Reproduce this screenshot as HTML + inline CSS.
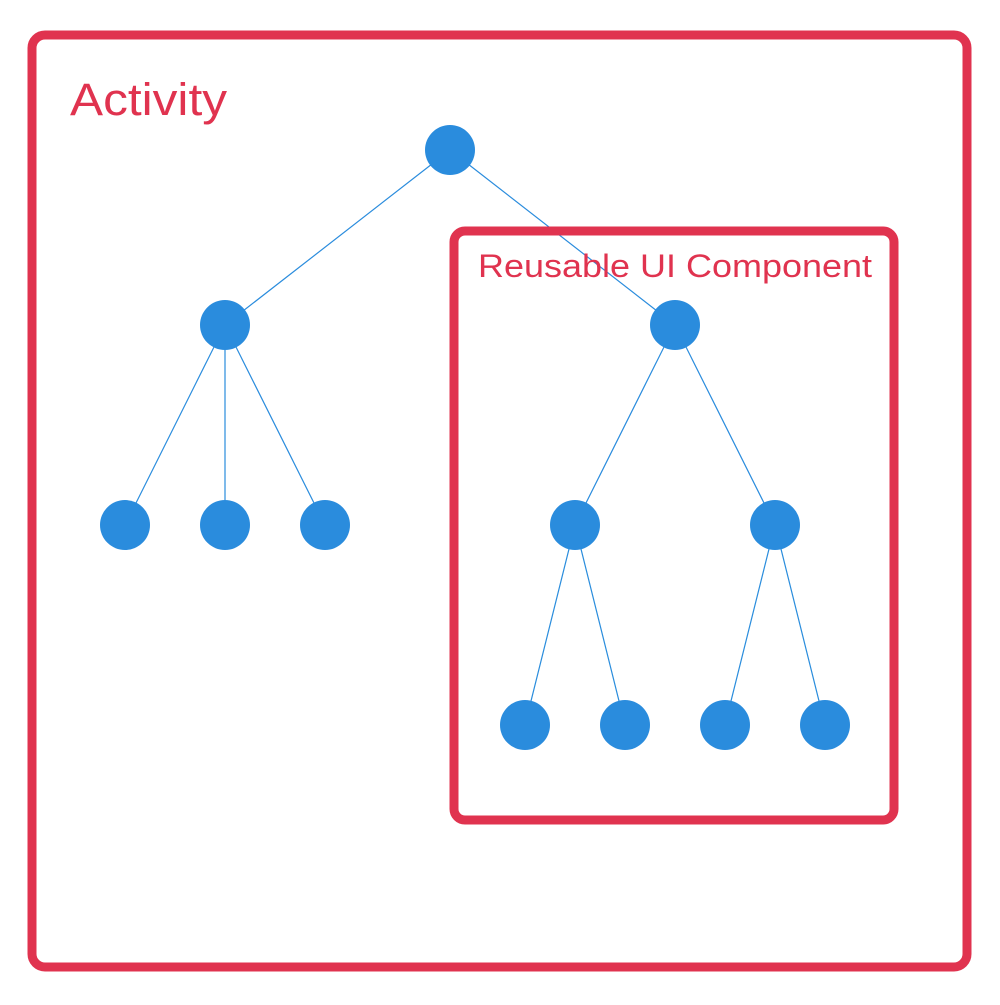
<!DOCTYPE html>
<html><head><style>html,body{margin:0;padding:0;background:#fff}</style></head>
<body>
<svg width="1000" height="1000" viewBox="0 0 1000 1000" xmlns="http://www.w3.org/2000/svg">
<rect x="0" y="0" width="1000" height="1000" fill="#fff"/>
<rect x="32" y="35" width="935" height="932" rx="13" fill="none" stroke="#E0334F" stroke-width="9"/>
<text x="70" y="115" font-family="Liberation Sans, sans-serif" font-size="45" fill="#E0334F" textLength="157" lengthAdjust="spacingAndGlyphs">Activity</text>
<g stroke="#2A8CDD" stroke-width="1.2">
<line x1="450" y1="150" x2="225" y2="325"/>
<line x1="450" y1="150" x2="675" y2="325"/>
<line x1="225" y1="325" x2="125" y2="525"/>
<line x1="225" y1="325" x2="225" y2="525"/>
<line x1="225" y1="325" x2="325" y2="525"/>
<line x1="675" y1="325" x2="575" y2="525"/>
<line x1="675" y1="325" x2="775" y2="525"/>
<line x1="575" y1="525" x2="525" y2="725"/>
<line x1="575" y1="525" x2="625" y2="725"/>
<line x1="775" y1="525" x2="725" y2="725"/>
<line x1="775" y1="525" x2="825" y2="725"/>
</g>
<rect x="454" y="231" width="440" height="589" rx="11" fill="none" stroke="#E0334F" stroke-width="9"/>
<text x="478" y="277" font-family="Liberation Sans, sans-serif" font-size="32" fill="#E0334F" textLength="394" lengthAdjust="spacingAndGlyphs">Reusable UI Component</text>
<g fill="#2A8CDD">
<circle cx="450" cy="150" r="25"/>
<circle cx="225" cy="325" r="25"/>
<circle cx="675" cy="325" r="25"/>
<circle cx="125" cy="525" r="25"/>
<circle cx="225" cy="525" r="25"/>
<circle cx="325" cy="525" r="25"/>
<circle cx="575" cy="525" r="25"/>
<circle cx="775" cy="525" r="25"/>
<circle cx="525" cy="725" r="25"/>
<circle cx="625" cy="725" r="25"/>
<circle cx="725" cy="725" r="25"/>
<circle cx="825" cy="725" r="25"/>
</g>
</svg>
</body></html>
